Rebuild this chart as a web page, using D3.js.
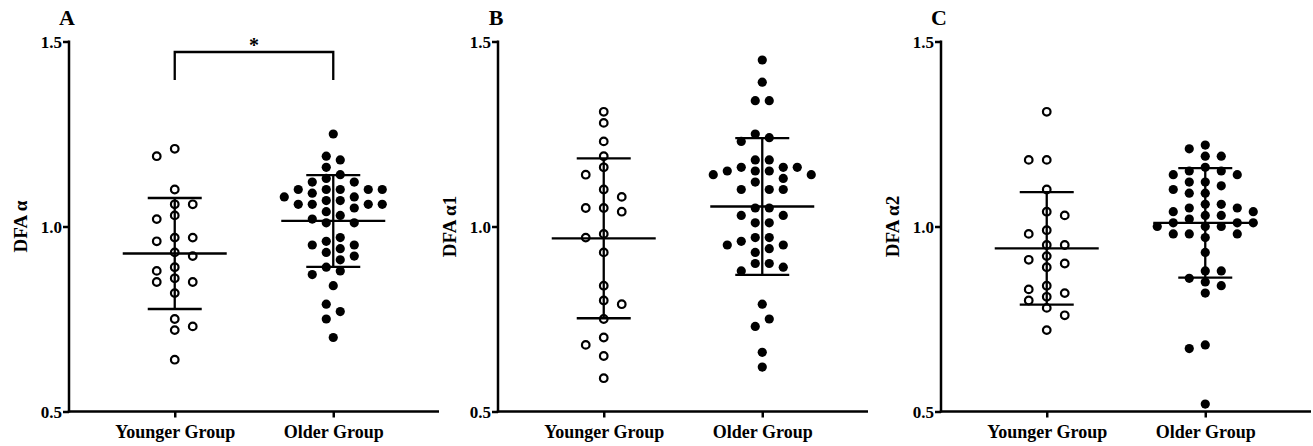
<!DOCTYPE html>
<html>
<head>
<meta charset="utf-8">
<script src="https://d3js.org/d3.v7.min.js"></script>
<style>
  body { margin: 0; background: #fff; }
  svg text { font-family: "Liberation Serif", "Times New Roman", serif; font-weight: bold; fill: #000; }
</style>
</head>
<body>
<div id="chart"></div>
<script>
// categories and labels
var groups = ["Younger Group", "Older Group"];
var panelLetters = ["A", "B", "C"];
var yLabels = ["DFA \u03b1", "DFA \u03b11", "DFA \u03b12"];
var yTicks = [0.5, 1.0, 1.5];

// panel A - DFA alpha
var youngA = [1.21, 1.19, 1.10, 1.06, 1.06, 1.03, 1.02, 0.97, 0.97, 0.96, 0.93, 0.92, 0.89, 0.88,
    0.86, 0.85, 0.85, 0.82, 0.75, 0.73, 0.72, 0.64];
var oldA = [1.25, 1.19, 1.18, 1.16, 1.14, 1.13, 1.12, 1.12, 1.10, 1.10, 1.10, 1.10, 1.10, 1.09,
    1.08, 1.08, 1.07, 1.07, 1.06, 1.06, 1.06, 1.06, 1.05, 1.04, 1.03, 1.02, 1.01, 1.01, 0.97, 0.96,
    0.95, 0.95, 0.94, 0.93, 0.92, 0.91, 0.89, 0.88, 0.87, 0.84, 0.79, 0.77, 0.75, 0.70];
var meanA = [0.927, 1.015];
var sdA = [0.150, 0.124];

// panel B - DFA alpha1
var youngB = [1.31, 1.28, 1.23, 1.19, 1.16, 1.14, 1.10, 1.08, 1.05, 1.05, 1.04, 0.98, 0.97, 0.93,
    0.84, 0.80, 0.79, 0.75, 0.70, 0.68, 0.65, 0.59];
var oldB = [1.45, 1.39, 1.34, 1.34, 1.25, 1.24, 1.23, 1.18, 1.18, 1.16, 1.16, 1.16, 1.15, 1.15,
    1.15, 1.14, 1.14, 1.13, 1.12, 1.10, 1.10, 1.10, 1.05, 1.05, 1.03, 1.03, 1.01, 1.01, 0.97, 0.97,
    0.96, 0.95, 0.95, 0.94, 0.93, 0.90, 0.90, 0.89, 0.88, 0.79, 0.75, 0.73, 0.66, 0.62];
var meanB = [0.968, 1.054];
var sdB = [0.216, 0.185];

// panel C - DFA alpha2
var youngC = [1.31, 1.18, 1.18, 1.10, 1.04, 1.03, 0.99, 0.98, 0.95, 0.95, 0.92, 0.91, 0.90, 0.89,
    0.84, 0.83, 0.82, 0.81, 0.80, 0.78, 0.76, 0.72];
var oldC = [1.22, 1.21, 1.19, 1.19, 1.16, 1.15, 1.15, 1.14, 1.14, 1.12, 1.12, 1.11, 1.10, 1.09,
    1.09, 1.06, 1.06, 1.05, 1.05, 1.04, 1.04, 1.03, 1.03, 1.02, 1.01, 1.01, 1.01, 1.00, 1.00, 1.00,
    0.98, 0.98, 0.98, 0.97, 0.93, 0.88, 0.88, 0.86, 0.85, 0.84, 0.82, 0.68, 0.67, 0.52];
var meanC = [0.941, 1.010];
var sdC = [0.152, 0.148];

var panels = [
    { young: youngA, old: oldA, mean: meanA, sd: sdA },
    { young: youngB, old: oldB, mean: meanB, sd: sdB },
    { young: youngC, old: oldC, mean: meanC, sd: sdC }
];

// layout
var svgWidth = 1313;
var svgHeight = 446;
var panelLeft = [69, 498, 941];
var plotTop = 41.5;
var plotBottom = 411.5;
var plotWidth = 370;
// column spacing of the dot grid, and whether the columns straddle the centre (even)
var swarmGrid = [
    [{ step: 18, even: false }, { step: 14, even: true }],
    [{ step: 18, even: false }, { step: 14, even: true }],
    [{ step: 18, even: false }, { step: 16, even: false }]
];
var minGap = 10.5;

var svg = d3.select("#chart")
    .append("svg")
    .attr("width", svgWidth)
    .attr("height", svgHeight);

svg.append("rect")
    .attr("width", svgWidth)
    .attr("height", svgHeight)
    .attr("fill", "#fff");

var yScale = d3.scaleLinear()
    .domain([0.5, 1.5])
    .range([plotBottom, plotTop]);

var xScale = d3.scalePoint()
    .domain(groups)
    .range([0, plotWidth])
    .padding(0.667);

// greedy dot swarm on a fixed column grid (like a Prism scatter dot plot)
function swarm(values, grid) {
    var pts = values.map(function (v) { return { v: v, y: yScale(v) }; })
        .sort(function (a, b) { return a.y - b.y; });
    var mags = d3.range(8).map(function (k) { return (grid.even ? k + 0.5 : k) * grid.step; });
    var placed = [];
    var left = 0, right = 0;

    pts.forEach(function (p) {
        var free = function (x) {
            return placed.every(function (q) {
                var dx = x - q.dx, dy = p.y - q.y;
                return dx * dx + dy * dy >= minGap * minGap;
            });
        };
        // a dot with no close neighbours sits on the centre line
        var alone = pts.every(function (q) { return q === p || Math.abs(q.y - p.y) >= minGap; });
        if (alone && free(0)) {
            p.dx = 0;
        } else {
            for (var i = 0; i < mags.length; i++) {
                var order = mags[i] === 0 ? [0] : (left <= right ? [-mags[i], mags[i]] : [mags[i], -mags[i]]);
                var hit = order.find(free);
                if (hit !== undefined) { p.dx = hit; break; }
            }
        }
        if (p.dx < 0) left++;
        if (p.dx > 0) right++;
        placed.push(p);
    });
    return pts;
}

panels.forEach(function (panel, pi) {
    var g = svg.append("g")
        .attr("transform", "translate(" + panelLeft[pi] + ",0)");

    // axes
    var leftAxis = d3.axisLeft(yScale)
        .tickValues(yTicks)
        .tickFormat(d3.format(".1f"))
        .tickSizeOuter(0)
        .tickSize(6)
        .tickPadding(1);
    var bottomAxis = d3.axisBottom(xScale)
        .tickSizeOuter(0)
        .tickSize(6)
        .tickPadding(8);

    var ya = g.append("g").call(leftAxis);
    ya.select(".domain").attr("stroke-width", 2.5)
        .attr("d", "M0," + (plotTop - 1) + "V" + (plotBottom + 1));
    ya.selectAll(".tick line").attr("stroke-width", 2.5);
    ya.selectAll(".tick text")
        .style("font-size", "17px")
        .attr("dy", "0.35em");

    var xa = g.append("g")
        .attr("transform", "translate(0," + plotBottom + ")")
        .call(bottomAxis);
    xa.select(".domain").attr("stroke-width", 2.5)
        .attr("d", "M-1.2,0H" + plotWidth);
    xa.selectAll(".tick line").attr("stroke-width", 2.5);
    xa.selectAll(".tick text")
        .style("font-size", "18px");

    // panel letter
    g.append("text")
        .attr("x", -2)
        .attr("y", 25)
        .attr("text-anchor", "middle")
        .style("font-size", "22px")
        .text(panelLetters[pi]);

    // y axis title
    g.append("text")
        .attr("transform", "translate(-42," + yScale(1.0) + ") rotate(-90)")
        .attr("text-anchor", "middle")
        .style("font-size", "19px")
        .text(yLabels[pi]);

    // dots
    [panel.young, panel.old].forEach(function (vals, gi) {
        var cx = xScale(groups[gi]);
        var pts = swarm(vals, swarmGrid[pi][gi]);
        g.selectAll(null)
            .data(pts)
            .enter()
            .append("circle")
            .attr("cx", function (d) { return cx + d.dx; })
            .attr("cy", function (d) { return d.y; })
            .attr("r", gi === 0 ? 3.8 : 4.6)
            .attr("fill", gi === 0 ? "#fff" : "#000")
            .attr("stroke", gi === 0 ? "#000" : "none")
            .attr("stroke-width", 2.2);
    });

    // mean and SD bars
    groups.forEach(function (grp, gi) {
        var cx = xScale(grp);
        var m = panel.mean[gi], s = panel.sd[gi];
        var bars = g.append("g")
            .attr("stroke", "#000")
            .attr("stroke-width", 2.3);
        bars.append("line")
            .attr("x1", cx).attr("x2", cx)
            .attr("y1", yScale(m + s)).attr("y2", yScale(m - s));
        bars.append("line")
            .attr("x1", cx - 52).attr("x2", cx + 52)
            .attr("y1", yScale(m)).attr("y2", yScale(m));
        [m + s, m - s].forEach(function (v) {
            bars.append("line")
                .attr("x1", cx - 27).attr("x2", cx + 27)
                .attr("y1", yScale(v)).attr("y2", yScale(v));
        });
    });

    // significance bracket (panel A only)
    if (pi === 0) {
        var x1 = xScale(groups[0]), x2 = xScale(groups[1]);
        g.append("path")
            .attr("d", "M" + x1 + ",80V52H" + x2 + "V80")
            .attr("fill", "none")
            .attr("stroke", "#000")
            .attr("stroke-width", 2.3);
        g.append("text")
            .attr("x", (x1 + x2) / 2)
            .attr("y", 52)
            .attr("text-anchor", "middle")
            .style("font-size", "20px")
            .text("*");
    }
});
</script>
</body>
</html>
